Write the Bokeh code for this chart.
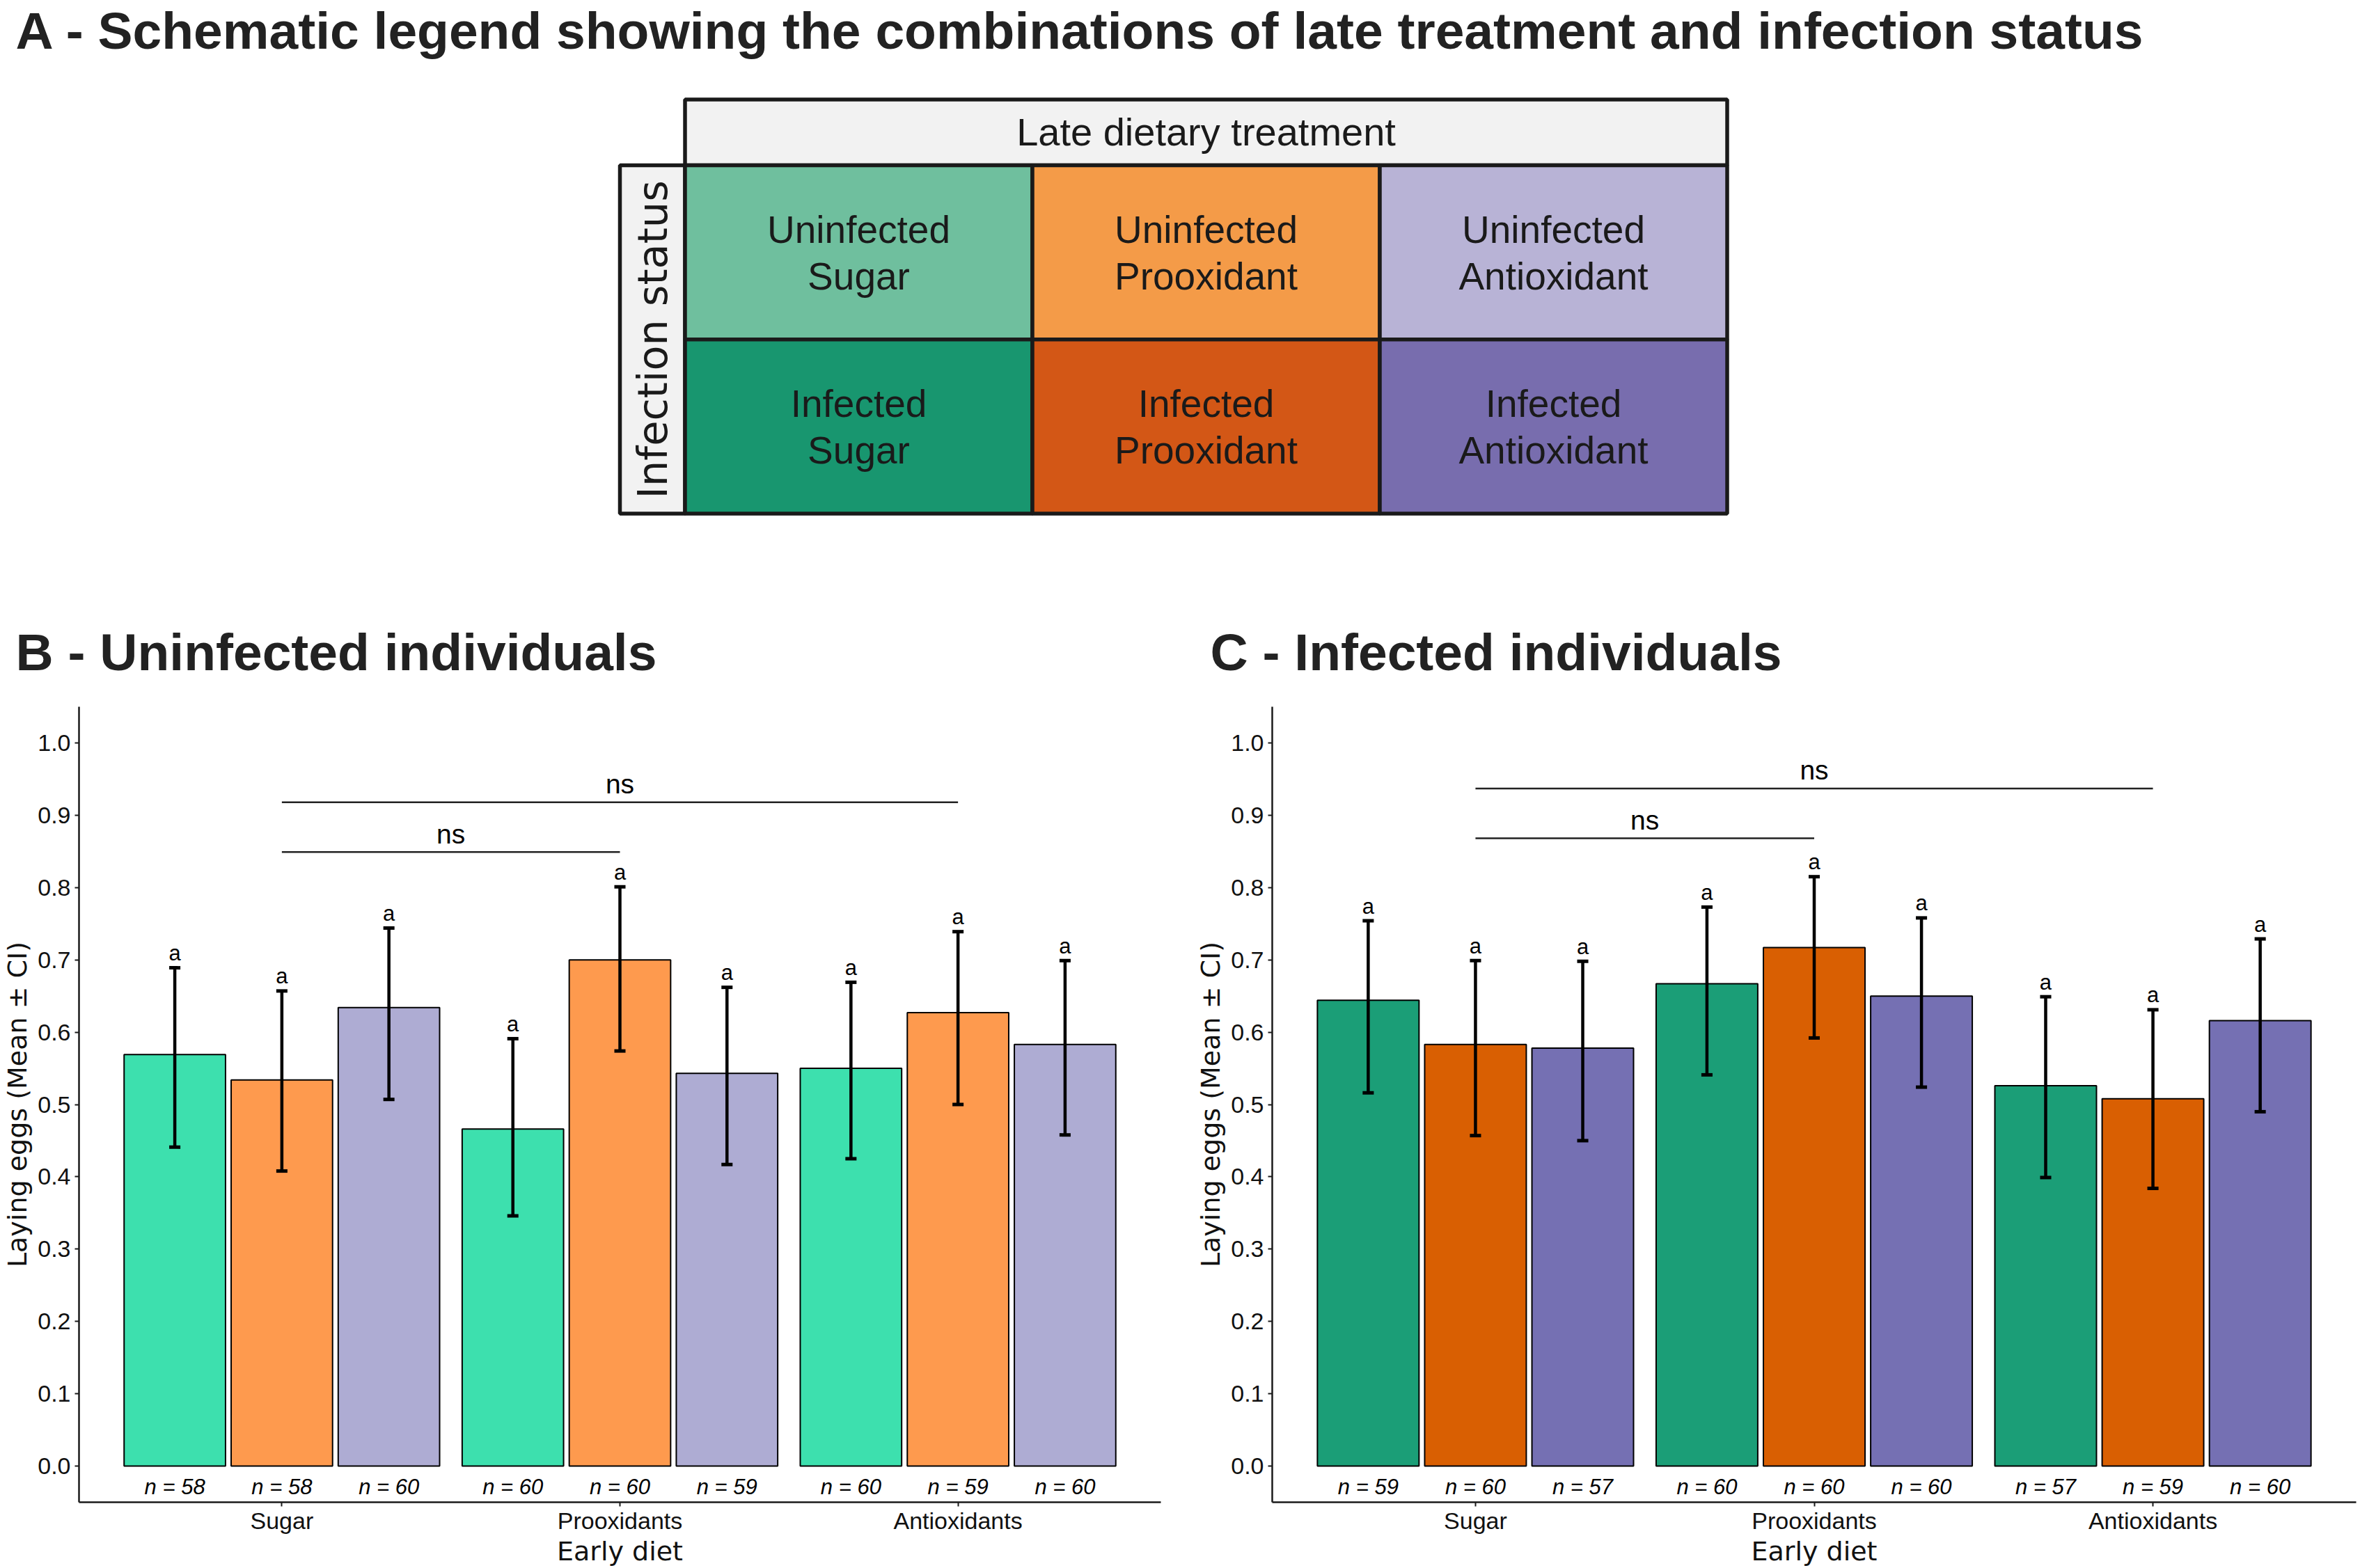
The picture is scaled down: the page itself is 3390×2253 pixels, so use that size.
import numpy as np
from bokeh.plotting import figure
from bokeh.layouts import column, row
from bokeh.models import Range1d, FixedTicker, NumeralTickFormatter, ColumnDataSource
from bokeh.core.properties import value
from bokeh.embed import file_html
from bokeh.resources import INLINE

# ---------------- data ----------------
early_diets = ["Sugar", "Prooxidants", "Antioxidants"]
late_treatments = ["Sugar", "Prooxidant", "Antioxidant"]
infection_rows = ["Uninfected", "Infected"]
y_ticks = [0.0, 0.1, 0.2, 0.3, 0.4, 0.5, 0.6, 0.7, 0.8, 0.9, 1.0]

# order: early diet (Sugar, Prooxidants, Antioxidants) x late treatment (Sugar, Prooxidant, Antioxidant)
B_mean = [0.569, 0.534, 0.634, 0.466, 0.700, 0.543, 0.550, 0.627, 0.583]
B_low = [0.441, 0.408, 0.507, 0.346, 0.574, 0.417, 0.425, 0.500, 0.458]
B_high = [0.689, 0.657, 0.744, 0.591, 0.801, 0.662, 0.669, 0.739, 0.699]
B_n = [58, 58, 60, 60, 60, 59, 60, 59, 60]
B_letters = ["a"] * 9
B_sig_from = ["Sugar", "Sugar"]
B_sig_to = ["Prooxidants", "Antioxidants"]
B_sig_y = [0.849, 0.918]
B_sig_text = ["ns", "ns"]

C_mean = [0.644, 0.583, 0.578, 0.667, 0.717, 0.650, 0.526, 0.508, 0.616]
C_low = [0.516, 0.457, 0.450, 0.541, 0.592, 0.524, 0.399, 0.384, 0.490]
C_high = [0.754, 0.699, 0.698, 0.773, 0.815, 0.758, 0.649, 0.631, 0.729]
C_n = [59, 60, 57, 60, 60, 60, 57, 59, 60]
C_letters = ["a"] * 9
C_sig_from = ["Sugar", "Sugar"]
C_sig_to = ["Prooxidants", "Antioxidants"]
C_sig_y = [0.868, 0.937]
C_sig_text = ["ns", "ns"]

B_colors = ["#3de0ae", "#fe9a4e", "#aeacd3"]
C_colors = ["#1b9e77", "#d95f02", "#7570b3"]
table_colors = [["#6fbf9e", "#f49b48", "#b8b3d6"],
                ["#18966f", "#d35716", "#786dae"]]

title_A = "A - Schematic legend showing the combinations of late treatment and infection status"
title_B = "B - Uninfected individuals"
title_C = "C - Infected individuals"
header_text = "Late dietary treatment"
side_text = "Infection status"
x_title = "Early diet"
y_title = "Laying eggs (Mean \u00b1 CI)"

# ---------------- layout constants ----------------
W = 3390
HA = 1015
HP = 2253 - HA
WB = 1708
PX_PER_UNIT = 1143 / 1.1
DODGE = 0.95 / 3
BAR_W = 0.30
CAP = 0.0165
DARK = "#1a1a1a"
SANS = "Liberation Sans"

# ---------------- panel A (schematic legend + panel titles) ----------------
pa = figure(width=W, height=HA, x_range=Range1d(0, W), y_range=Range1d(HA, 0),
            output_backend="svg", toolbar_location=None, min_border=0,
            x_axis_location=None, y_axis_location=None)
pa.xgrid.visible = False
pa.ygrid.visible = False
pa.outline_line_color = None

for txt, tx, ty in [(title_A, 22, 43), (title_B, 22, 936), (title_C, 1738, 936)]:
    pa.text(x=[tx], y=[ty], text=[txt], text_font=value(SANS), text_font_style="bold",
            text_font_size="75px", text_align="left", text_baseline="middle",
            text_color="#222222")

grid_left, col_w = 983.5, 499.0
grid_top, row_h = 237.0, 250.25
hdr_top = 142.5
side_left = 890.0
border_w = 5.5

# header box
pa.quad(left=[grid_left], right=[grid_left + 3 * col_w], top=[hdr_top], bottom=[grid_top],
        fill_color="#f2f2f2", line_color=DARK, line_width=border_w)
pa.text(x=[grid_left + 1.5 * col_w], y=[(hdr_top + grid_top) / 2 - 1], text=[header_text],
        text_font=value(SANS), text_font_size="56px", text_align="center",
        text_baseline="middle", text_color=DARK)
# side box
pa.quad(left=[side_left], right=[grid_left], top=[grid_top], bottom=[grid_top + 2 * row_h],
        fill_color="#f2f2f2", line_color=DARK, line_width=border_w)
pa.text(x=[(side_left + grid_left) / 2], y=[grid_top + row_h], text=[side_text],
        angle=np.pi / 2, text_font=value("DejaVu Sans"), text_font_size="59px",
        text_align="center", text_baseline="middle", text_color=DARK)

cl, cr, ct, cb, cc, l1, l2, tx, ty1, ty2 = [], [], [], [], [], [], [], [], [], []
for r, status in enumerate(infection_rows):
    for c, treat in enumerate(late_treatments):
        cl.append(grid_left + c * col_w)
        cr.append(grid_left + (c + 1) * col_w)
        ct.append(grid_top + r * row_h)
        cb.append(grid_top + (r + 1) * row_h)
        cc.append(table_colors[r][c])
        l1.append(status)
        l2.append(treat)
        tx.append(grid_left + (c + 0.5) * col_w)
        ty1.append(grid_top + (r + 0.5) * row_h - 33)
        ty2.append(grid_top + (r + 0.5) * row_h + 34)
pa.quad(left=cl, right=cr, top=ct, bottom=cb, fill_color=cc, line_color=DARK, line_width=border_w)
pa.text(x=tx, y=ty1, text=l1, text_font=value(SANS), text_font_size="55px",
        text_align="center", text_baseline="middle", text_color=DARK)
pa.text(x=tx, y=ty2, text=l2, text_font=value(SANS), text_font_size="55px",
        text_align="center", text_baseline="middle", text_color=DARK)


# ---------------- panels B and C ----------------
def build_panel(width, b_left, b_right, means, lows, highs, ns, letters,
                sig_from, sig_to, sig_y, sig_text, colors):
    p = figure(width=width, height=HP, x_range=Range1d(0.4, 3.6), y_range=Range1d(-0.05, 1.05),
               output_backend="svg", toolbar_location=None,
               min_border_left=b_left, min_border_right=b_right,
               min_border_top=0, min_border_bottom=95)
    p.xgrid.visible = False
    p.ygrid.visible = False
    p.outline_line_color = None

    xs, cols, nlab = [], [], []
    i = 0
    for g, diet in enumerate(early_diets):
        for k, treat in enumerate(late_treatments):
            xs.append(g + 1 + (k - 1) * DODGE)
            cols.append(colors[k])
            nlab.append("n = %d" % ns[i])
            i += 1
    xs = np.array(xs)
    src = ColumnDataSource(dict(x=xs, top=means, lo=lows, hi=highs, color=cols,
                                xl=xs - CAP, xr=xs + CAP, nlab=nlab, let=letters,
                                ly=np.array(highs) + 21 / PX_PER_UNIT,
                                ny=[-0.029] * len(xs)))
    p.vbar(x="x", top="top", bottom=0, width=BAR_W, fill_color="color",
           line_color="black", line_width=2, source=src)
    p.segment(x0="x", y0="lo", x1="x", y1="hi", line_color="black", line_width=4.5, source=src)
    p.segment(x0="xl", y0="hi", x1="xr", y1="hi", line_color="black", line_width=5, source=src)
    p.segment(x0="xl", y0="lo", x1="xr", y1="lo", line_color="black", line_width=5, source=src)
    p.text(x="x", y="ly", text="let", source=src, text_font=value(SANS), text_font_size="31px",
           text_align="center", text_baseline="middle", text_color="black")
    p.text(x="x", y="ny", text="nlab", source=src, text_font=value(SANS), text_font_style="italic",
           text_font_size="31px", text_align="center", text_baseline="middle", text_color="black")

    x0 = [early_diets.index(a) + 1 for a in sig_from]
    x1 = [early_diets.index(b) + 1 for b in sig_to]
    p.segment(x0=x0, y0=sig_y, x1=x1, y1=sig_y, line_color="#222222", line_width=2.5)
    p.text(x=[(a + b) / 2 for a, b in zip(x0, x1)], y=[h + 26 / PX_PER_UNIT for h in sig_y],
           text=sig_text, text_font=value(SANS), text_font_size="39px", text_align="center",
           text_baseline="middle", text_color="black")

    p.yaxis.ticker = FixedTicker(ticks=y_ticks)
    p.yaxis.formatter = NumeralTickFormatter(format="0.0")
    p.xaxis.ticker = FixedTicker(ticks=[1, 2, 3])
    p.xaxis.major_label_overrides = {i + 1: d for i, d in enumerate(early_diets)}
    for ax in (p.xaxis[0], p.yaxis[0]):
        ax.axis_line_color = DARK
        ax.axis_line_width = 2.5
        ax.major_tick_line_color = DARK
        ax.major_tick_line_width = 2
        ax.major_tick_in = 0
        ax.major_tick_out = 6
        ax.minor_tick_line_color = None
        ax.major_label_text_font = SANS
        ax.major_label_text_font_size = "34px"
        ax.major_label_text_color = "#111111"
        ax.axis_label_text_font = "DejaVu Sans"
        ax.axis_label_text_font_size = "38px"
        ax.axis_label_text_font_style = "normal"
        ax.axis_label_text_color = "#111111"
    p.xaxis.major_label_standoff = 1
    p.xaxis.axis_label_standoff = 0
    p.yaxis.major_label_standoff = 6
    p.yaxis.axis_label_standoff = 4
    p.xaxis.axis_label = x_title
    p.yaxis.axis_label = y_title
    return p


pb = build_panel(WB, 110, 41, B_mean, B_low, B_high, B_n, B_letters,
                 B_sig_from, B_sig_to, B_sig_y, B_sig_text, B_colors)
pc = build_panel(W - WB, 119, 6, C_mean, C_low, C_high, C_n, C_letters,
                 C_sig_from, C_sig_to, C_sig_y, C_sig_text, C_colors)

layout = column(pa, row(pb, pc))
open("out.html", "w").write(file_html(layout, INLINE))
